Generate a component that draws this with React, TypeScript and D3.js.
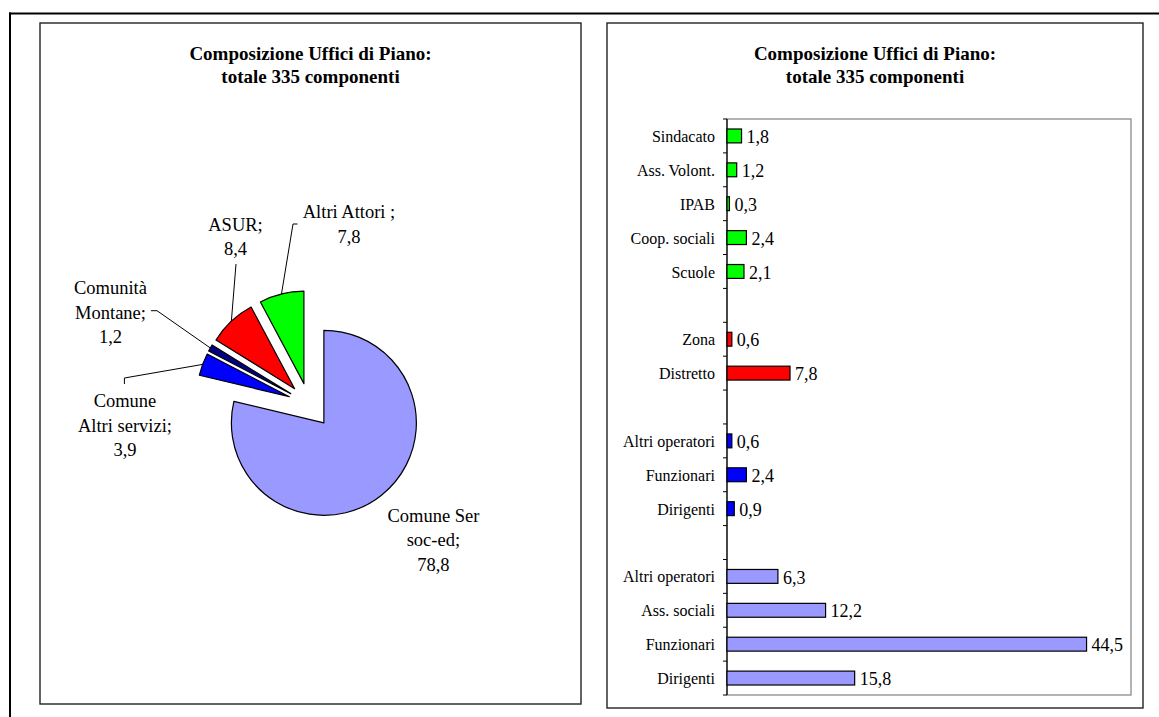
import React from "react";
import * as d3 from "d3";

// ---------- DATA ----------
const titleLines = ["Composizione Uffici di Piano:", "totale 335 componenti"];

const pieCategories = ["Comune Ser soc-ed", "Comune Altri servizi", "Comunità Montane", "ASUR", "Altri Attori"];
const pieValues = [78.8, 3.9, 1.2, 8.4, 7.8];
const pieColors = ["#9999FF", "#0000FF", "#000080", "#FF0000", "#00FF00"];
const pieLabelLines = [["Comune Ser", "soc-ed;"], ["Comune", "Altri servizi;"], ["Comunità", "Montane;"], ["ASUR;"], ["Altri Attori ;"]];

const barCategories = [
  "Sindacato", "Ass. Volont.", "IPAB", "Coop. sociali", "Scuole", "",
  "Zona", "Distretto", "",
  "Altri operatori", "Funzionari", "Dirigenti", "",
  "Altri operatori", "Ass. sociali", "Funzionari", "Dirigenti",
];
const barValues: (number | null)[] = [
  1.8, 1.2, 0.3, 2.4, 2.1, null,
  0.6, 7.8, null,
  0.6, 2.4, 0.9, null,
  6.3, 12.2, 44.5, 15.8,
];
const barColors = [
  "#00FF00", "#00FF00", "#00FF00", "#00FF00", "#00FF00", "none",
  "#FF0000", "#FF0000", "none",
  "#0000FF", "#0000FF", "#0000FF", "none",
  "#9999FF", "#9999FF", "#9999FF", "#9999FF",
];
const xDomain = [0, 50];

// ---------- LAYOUT ----------
const W = 1159, H = 717;
const FONT = "'Liberation Serif', 'Times New Roman', serif";
const leftPanel = { x: 40, y: 23, w: 541, h: 681 };
const rightPanel = { x: 607, y: 23, w: 536, h: 685 };
const plot = { x: 727, y: 119, w: 404, h: 576 };
const pieCenter = [309, 404];
const pieR = 92.5;
const explode = [24, 21, 21, 21, 21];
const pieLabelPos = [
  { x: 433.4, y: 521.7 },
  { x: 125, y: 407.3 },
  { x: 110.5, y: 294 },
  { x: 235.5, y: 230.5 },
  { x: 349, y: 218 },
];
const leaderStarts: number[][][] = [
  [],
  [[124.4, 384], [124.4, 378]],
  [[151, 310.7], [157, 310.7]],
  [[236, 264]],
  [[297.5, 224], [293, 224]],
];

const fmt = (v: number) => v.toFixed(1).replace(".", ",");

function Title({ cx }: { cx: number }) {
  return (
    <text x={cx} y={60} textAnchor="middle" fontFamily={FONT} fontWeight="bold" fontSize={19} fill="#000">
      <tspan x={cx} y={60}>{titleLines[0]}</tspan>
      <tspan x={cx} y={83.3}>{titleLines[1]}</tspan>
    </text>
  );
}

export default function App() {
  const pie = d3.pie<number>().sort(null).startAngle(0).endAngle(2 * Math.PI).value((d) => d);
  const arcs = pie(pieValues);
  const arcGen = d3.arc<d3.PieArcDatum<number>>().innerRadius(0).outerRadius(pieR);

  const y = d3
    .scaleBand<number>()
    .domain(barCategories.map((_, i) => i))
    .range([plot.y, plot.y + plot.h])
    .paddingInner(0.59)
    .paddingOuter(0.295);
  const x = d3.scaleLinear().domain(xDomain).range([plot.x, plot.x + plot.w]);
  const step = y.step();

  return (
    <svg width={W} height={H} style={{ position: "absolute", left: 0, top: 0, background: "#fff" }}>
      <rect x={0} y={0} width={W} height={H} fill="#fff" />
      {/* outer frame */}
      <line x1={9} y1={13.5} x2={W} y2={13.5} stroke="#000" strokeWidth={2} />
      <line x1={10} y1={12.5} x2={10} y2={H} stroke="#000" strokeWidth={2} />

      {/* left panel */}
      <rect x={leftPanel.x} y={leftPanel.y} width={leftPanel.w} height={leftPanel.h} fill="#fff" stroke="#222" strokeWidth={1.4} />
      <Title cx={leftPanel.x + leftPanel.w / 2} />

      <g>
        {arcs.map((a, i) => {
          const mid = (a.startAngle + a.endAngle) / 2;
          const ox = pieCenter[0] + Math.sin(mid) * explode[i];
          const oy = pieCenter[1] - Math.cos(mid) * explode[i];
          return (
            <path
              key={i}
              d={arcGen(a) || ""}
              transform={`translate(${ox},${oy})`}
              fill={pieColors[i]}
              stroke="#000"
              strokeWidth={1.2}
              strokeLinejoin="round"
            />
          );
        })}
        {arcs.map((a, i) => {
          const starts = leaderStarts[i];
          if (!starts.length) return null;
          const mid = (a.startAngle + a.endAngle) / 2;
          const ox = pieCenter[0] + Math.sin(mid) * explode[i];
          const oy = pieCenter[1] - Math.cos(mid) * explode[i];
          const ex = ox + Math.sin(mid) * pieR;
          const ey = oy - Math.cos(mid) * pieR;
          const pts = [...starts, [ex, ey]];
          return (
            <polyline key={"l" + i} points={pts.map((p) => p.join(",")).join(" ")} fill="none" stroke="#000" strokeWidth={1} />
          );
        })}
        {pieCategories.map((c, i) => {
          const lines = [...pieLabelLines[i], fmt(pieValues[i])];
          const p = pieLabelPos[i];
          return (
            <text key={c} textAnchor="middle" fontFamily={FONT} fontSize={18.5} fill="#000">
              {lines.map((t, j) => (
                <tspan key={j} x={p.x} y={p.y + j * 24.5}>
                  {t}
                </tspan>
              ))}
            </text>
          );
        })}
      </g>

      {/* right panel */}
      <rect x={rightPanel.x} y={rightPanel.y} width={rightPanel.w} height={rightPanel.h} fill="#fff" stroke="#222" strokeWidth={1.4} />
      <Title cx={rightPanel.x + rightPanel.w / 2} />

      <rect x={plot.x} y={plot.y} width={plot.w} height={plot.h} fill="none" stroke="#808080" strokeWidth={1.2} />
      <line x1={plot.x} y1={plot.y} x2={plot.x} y2={plot.y + plot.h} stroke="#000" strokeWidth={1.2} />
      {d3.range(barCategories.length + 1).map((k) => (
        <line key={"t" + k} x1={plot.x - 4} x2={plot.x} y1={plot.y + k * step} y2={plot.y + k * step} stroke="#000" strokeWidth={1} />
      ))}
      {barCategories.map((c, i) => {
        const v = barValues[i];
        const by = y(i) as number;
        const bh = y.bandwidth();
        const cy = by + bh / 2;
        return (
          <g key={"b" + i}>
            {c && (
              <text x={715} y={cy} dy="0.38em" textAnchor="end" fontFamily={FONT} fontSize={16} fill="#000">
                {c}
              </text>
            )}
            {v != null && (
              <>
                <rect x={x(0)} y={by} width={x(v) - x(0)} height={bh} fill={barColors[i]} stroke="#000" strokeWidth={1.2} />
                <text x={x(v) + 5} y={cy} dy="0.4em" fontFamily={FONT} fontSize={18} fill="#000">
                  {fmt(v)}
                </text>
              </>
            )}
          </g>
        );
      })}
    </svg>
  );
}
